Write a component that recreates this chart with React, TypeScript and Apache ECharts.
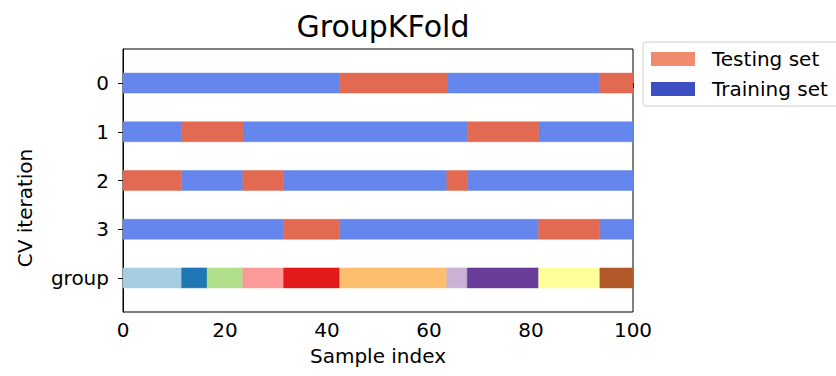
import React, { useEffect, useRef } from "react";
import * as echarts from "echarts";

// ---- data ----
const rowLabels = ["0", "1", "2", "3", "group"];
const groupSizes = [12, 5, 7, 8, 11, 21, 4, 14, 12, 6];
const testGroupsPerFold = [[5, 9], [1, 2, 7], [0, 3, 6], [4, 8]];
const groupColors = [
  "#a6cee3", "#1f78b4", "#b2df8a", "#fb9a99", "#e31a1c",
  "#fdbf6f", "#cab2d6", "#6a3d9a", "#ffff99", "#b15928",
];
const xTicks = [0, 20, 40, 60, 80, 100];
const nSamples = 100;

const TRAIN_COLOR = "#6586ec";
const TEST_COLOR = "#e26a52";
const LEGEND_TEST = "#f08b6e";
const LEGEND_TRAIN = "#3d50c3";
const FONT = "DejaVu Sans";

// group edges along sample index (bars span half a sample each side, clipped to axis)
function groupEdges(): [number, number][] {
  const out: [number, number][] = [];
  let cum = 0;
  groupSizes.forEach((s, i) => {
    const a = i === 0 ? 0 : cum - 0.5;
    const b = i === groupSizes.length - 1 ? nSamples : cum + s - 0.5;
    out.push([a, b]);
    cum += s;
  });
  return out;
}

export default function App() {
  const ref = useRef<HTMLDivElement>(null);
  useEffect(() => {
    if (!ref.current) return;
    const chart = echarts.init(ref.current, null, { renderer: "svg" });
    const edges = groupEdges();
    const testData: number[][] = [];
    const trainData: number[][] = [];
    // merge contiguous groups of the same role into one run per fold
    testGroupsPerFold.forEach((tg, fold) => {
      let runStart = edges[0][0];
      let runIsTest = tg.includes(0);
      for (let g = 1; g <= edges.length; g++) {
        const isTest = g < edges.length ? tg.includes(g) : !runIsTest;
        if (isTest !== runIsTest) {
          const end = edges[g - 1][1];
          (runIsTest ? testData : trainData).push([runStart, end, fold]);
          if (g < edges.length) {
            runStart = edges[g][0];
            runIsTest = isTest;
          }
        }
      }
    });
    const groupData = edges.map(([a, b], g) => [a, b, 4, g]);
    const BAR_H = 0.41;

    const makeRender = (useGroupColor: boolean) => (params: any, api: any) => {
      const x0 = api.value(0);
      const x1 = api.value(1);
      const row = api.value(2);
      const p0 = api.coord([x0, row]);
      const p1 = api.coord([x1, row]);
      const h = api.size([0, BAR_H])[1];
      const fill = useGroupColor ? groupColors[api.value(3)] : api.visual("color");
      return {
        type: "rect",
        shape: { x: p0[0], y: p0[1] - h / 2, width: p1[0] - p0[0], height: h },
        style: { fill, stroke: fill, lineWidth: 0.5 },
      };
    };

    chart.setOption({
      animation: false,
      backgroundColor: "#ffffff",
      textStyle: { fontFamily: FONT },
      title: {
        text: "GroupKFold",
        left: 378,
        textAlign: "center",
        top: 6,
        textStyle: { fontFamily: FONT, fontSize: 30, fontWeight: "normal", color: "#000" },
      },
      legend: {
        orient: "vertical",
        left: 643,
        top: 42,
        padding: [7, 12, 7, 8],
        itemWidth: 44,
        itemHeight: 14,
        itemGap: 10,
        borderColor: "#d0d0d0",
        borderWidth: 1,
        borderRadius: 3,
        icon: "rect",
        textStyle: { fontFamily: FONT, fontSize: 20, color: "#000", padding: [0, 0, 0, 12] },
        data: [
          { name: "Testing set", itemStyle: { color: LEGEND_TEST } },
          { name: "Training set", itemStyle: { color: LEGEND_TRAIN } },
        ],
      },
      grid: {
        left: 123,
        right: 836 - 633,
        top: 49,
        bottom: 376 - 312,
        show: true,
        borderColor: "#000",
        borderWidth: 1,
      },
      xAxis: {
        type: "value",
        min: 0,
        max: 100,
        interval: 20,
        name: "Sample index",
        nameLocation: "middle",
        nameGap: 34,
        nameTextStyle: { fontFamily: FONT, fontSize: 20, color: "#000" },
        axisLine: { lineStyle: { color: "#000", width: 1 } },
        axisTick: { show: true, inside: false, length: 5, lineStyle: { color: "#000" } },
        axisLabel: {
          fontFamily: FONT,
          fontSize: 20,
          color: "#000",
          margin: 8,
          formatter: (v: number) => (xTicks.includes(v) ? String(v) : ""),
        },
        splitLine: { show: false },
      },
      yAxis: {
        type: "value",
        inverse: true,
        min: -0.7,
        max: 4.7,
        axisLine: { show: true, lineStyle: { color: "#000", width: 1 } },
        axisTick: {
          show: true,
          length: 5,
          lineStyle: { color: "#000" },
          customValues: [0, 1, 2, 3, 4],
        },
        axisLabel: {
          fontFamily: FONT,
          fontSize: 20,
          color: "#000",
          margin: 14,
          customValues: [0, 1, 2, 3, 4],
          formatter: (v: number) => rowLabels[Math.round(v)] ?? "",
        },
        splitLine: { show: false },
      },
      graphic: [
        {
          type: "text",
          x: 25,
          y: 208,
          rotation: Math.PI / 2,
          style: {
            text: "CV iteration",
            fontFamily: FONT,
            fontSize: 20,
            fill: "#000",
            align: "center",
            verticalAlign: "middle",
          },
        },
      ],
      series: [
        {
          name: "Training set",
          type: "custom",
          color: TRAIN_COLOR,
          renderItem: makeRender(false),
          encode: { x: [0, 1], y: 2 },
          data: trainData,
          z: 2,
        },
        {
          name: "Testing set",
          type: "custom",
          color: TEST_COLOR,
          renderItem: makeRender(false),
          encode: { x: [0, 1], y: 2 },
          data: testData,
          z: 2,
        },
        {
          name: "group",
          type: "custom",
          renderItem: makeRender(true),
          encode: { x: [0, 1], y: 2 },
          data: groupData,
          z: 2,
        },
      ],
    });
    return () => chart.dispose();
  }, []);
  return (
    <div
      ref={ref}
      style={{ position: "fixed", left: 0, top: 0, width: 836, height: 376, background: "#fff" }}
    />
  );
}
